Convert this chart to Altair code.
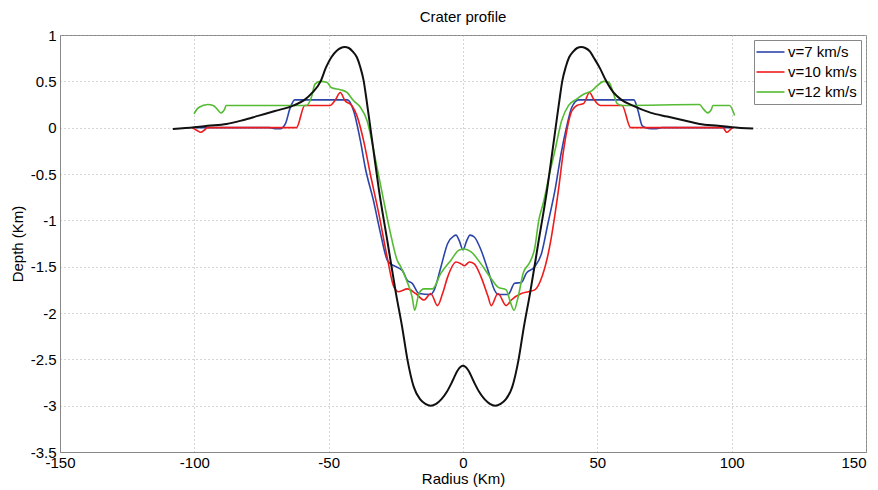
import altair as alt
import pandas as pd

# ---- data ----
black_x = [-108, -100, -95, -88, -82, -76, -70, -63, -59, -56, -53, -51, -49, -47, -45.5, -44,
           -42.5, -41, -39.5, -38.3, -37, -36, -35, -33.3, -31.4, -28, -25, -22.6, -20.7, -18.3,
           -16, -14, -12, -10, -8, -6, -4, -2, 0, 2, 4, 6, 8, 10, 12, 14, 16, 18.3, 20.7, 22.6,
           25, 28, 31.4, 33.3, 35, 36, 37, 38.3, 39.5, 41, 42.5, 44, 45.5, 47, 49, 51, 53, 56,
           59, 63, 70, 76, 82, 88, 95, 100, 108]
black_y = [-0.015, 0.005, 0.02, 0.04, 0.08, 0.13, 0.18, 0.24, 0.3, 0.38, 0.5, 0.65, 0.76, 0.83, 0.86, 0.87,
           0.86, 0.82, 0.76, 0.66, 0.51, 0.32, 0.11, -0.25, -0.65, -1.25, -1.78, -2.16, -2.5, -2.8,
           -2.93, -2.98, -3.0, -2.98, -2.93, -2.85, -2.74, -2.62, -2.57, -2.62, -2.74, -2.85, -2.93, -2.98, -3.0, -2.98, -2.93, -2.8, -2.5, -2.16,
           -1.78, -1.25, -0.65, -0.25, 0.11, 0.32, 0.51, 0.66, 0.76, 0.82, 0.86, 0.87, 0.86, 0.83, 0.74, 0.64, 0.52, 0.38,
           0.3, 0.24, 0.16, 0.12, 0.08, 0.04, 0.02, 0.005, -0.01]

v7_x = [-100, -80, -72, -70, -68, -66, -64.5, -62.6, -50, -43, -40.7, -38.2, -36.4, -33.3, -30.7,
        -28.2, -27, -25.7, -22.6, -20.7, -18.9, -16.4, -12, -10.7, -8.2, -5.7, -3.5, -2.6, -1.4,
        0, 1.4, 2.6, 4.2, 6.7, 9.3, 11.7, 13, 16.8, 19.2, 21.7, 23.6, 26.7, 29.2, 31.5, 34.2,
        36.7, 38.5, 40.5, 43, 63.6, 65, 66.7, 68, 70, 72, 74, 80, 100]
v7_y = [0, 0, 0, -0.01, -0.01, 0.05, 0.2, 0.3, 0.3, 0.3, 0.18, -0.14, -0.43, -0.79, -1.14,
        -1.43, -1.47, -1.49, -1.54, -1.65, -1.68, -1.79, -1.80, -1.75, -1.50, -1.25, -1.17, -1.16, -1.22,
        -1.32, -1.22, -1.16, -1.18, -1.32, -1.54, -1.75, -1.80, -1.80, -1.68, -1.67, -1.57, -1.50, -1.36, -1.05, -0.68,
        -0.25, 0.0, 0.22, 0.3, 0.3, 0.2, 0.02, 0, -0.01, -0.01, 0, 0, 0]

v10_x = [-100.8, -99, -97.6, -96, -95, -62, -58.9, -49.5, -47.5, -45.7, -43.9, -41.4, -39.5, -37,
         -34.5, -31.4, -28.2, -25.7, -23.9, -20.7, -17.6, -14.5, -12, -9.5, -7.6, -5.7, -2.6,
         -0.7, 0.5, 2.4, 4.2, 6.7, 9.3, 10.5, 13, 16.1, 18, 21.7, 24.3, 26.7, 29.5, 31.8, 35.5,
         37.4, 40.5, 42.4, 44.9, 47.1, 48.6, 51.1, 59.2, 62.4, 96.7, 98.2, 99.5, 100.5]
v10_y = [0, -0.03, -0.05, -0.02, 0, 0, 0.24, 0.24, 0.3, 0.38, 0.29, 0.24, 0.13, -0.14,
         -0.5, -0.92, -1.40, -1.72, -1.77, -1.74, -1.79, -1.86, -1.79, -1.92, -1.79, -1.61, -1.45,
         -1.47, -1.49, -1.45, -1.47, -1.61, -1.82, -1.92, -1.79, -1.92, -1.86, -1.79, -1.77, -1.75, -1.6, -1.35, -0.68,
         -0.25, 0.18, 0.24, 0.26, 0.38, 0.31, 0.24, 0.24, 0, 0, -0.05, -0.02, 0]

v12_x = [-100.1, -99, -98.2, -95, -93, -91.5, -90.1, -88.7, -88.2, -58.2, -56.4, -55.1, -53.2,
         -50.7, -48.9, -45.7, -43.2, -40.7, -38.2, -35.7, -33.2, -32, -29.5, -27, -24.5, -23.2,
         -20.7, -18.9, -18, -16.4, -14.5, -11.4, -8.2, -4.5, -1.4, 0.5, 3, 6.7, 10.5, 13, 16.1,
         17.4, 19, 20.5, 22.4, 24.9, 26.7, 28.2, 30, 32.2, 34.2, 36.7, 39.3, 42.4, 44.9, 48, 49.9,
         52.4, 54.3, 56.1, 57.4, 59.2, 88, 89.5, 91.1, 92.5, 93, 99.2, 101.1]
v12_y = [0.15, 0.2, 0.22, 0.25, 0.24, 0.2, 0.16, 0.2, 0.24, 0.24, 0.33, 0.47, 0.50,
         0.49, 0.43, 0.41, 0.38, 0.29, 0.22, 0.075, -0.25, -0.43, -0.79, -1.14, -1.43, -1.50,
         -1.67, -1.83, -1.97, -1.79, -1.74, -1.74, -1.57, -1.43, -1.32, -1.31, -1.34, -1.47, -1.63, -1.72, -1.75,
         -1.86, -1.97, -1.83, -1.57, -1.45, -1.3, -1.0, -0.8, -0.5, -0.25, 0.075, 0.24, 0.31, 0.36, 0.40, 0.45,
         0.50, 0.49, 0.36, 0.26, 0.24, 0.25, 0.2, 0.16, 0.2, 0.24, 0.24, 0.13]

series_names = ["v=7 km/s", "v=10 km/s", "v=12 km/s"]
series_colors = ["#2b45a8", "#ee1c1c", "#55bb33"]
x_ticks = [-150, -100, -50, 0, 50, 100, 150]
y_ticks = [-3.5, -3, -2.5, -2, -1.5, -1, -0.5, 0, 0.5, 1]

rows = []
for name, xs, ys in zip(series_names, [v7_x, v10_x, v12_x], [v7_y, v10_y, v12_y]):
    for i, (a, b) in enumerate(zip(xs, ys)):
        rows.append({"series": name, "r": a, "d": b, "i": i})
df = pd.DataFrame(rows)
dfb = pd.DataFrame({"r": black_x, "d": black_y, "i": list(range(len(black_x)))})

FONT = "Arial, Liberation Sans, Helvetica, sans-serif"
FS = 15

xenc = alt.X("r:Q", scale=alt.Scale(domain=[-150, 150], nice=False),
             axis=alt.Axis(values=x_ticks, title="Radius (Km)", labelExpr="'' + datum.value",
                           labelFlush=False,
                           labelAlign={"condition": {"test": "datum.value >= 150", "value": "right"},
                                       "value": "center"},
                           labelPadding=3, titlePadding=1))
yenc = alt.Y("d:Q", scale=alt.Scale(domain=[-3.5, 1], nice=False),
             axis=alt.Axis(values=y_ticks, title="Depth (Km)", labelExpr="'' + datum.value",
                           labelPadding=4, titlePadding=5))

colored = alt.Chart(df).mark_line(strokeWidth=1.6, interpolate="monotone").encode(
    x=xenc, y=yenc,
    color=alt.Color("series:N", scale=alt.Scale(domain=series_names, range=series_colors),
                    sort=series_names,
                    legend=alt.Legend(title=None, orient="none", legendX=694, legendY=5,
                                      fillColor="white", strokeColor="#888888", padding=4,
                                      labelFont=FONT, labelFontSize=FS, labelColor="black",
                                      symbolType="M-1.36,0H2.64", symbolSize=196, symbolStrokeWidth=1.6,
                                      labelOffset=14, rowPadding=4)),
    order="i:Q",
)

black = alt.Chart(dfb).mark_line(strokeWidth=2, color="#111111", interpolate="monotone").encode(
    x=xenc, y=yenc, order="i:Q"
)

chart = alt.layer(colored, black).properties(
    width=806, height=417,
    background="white",
    autosize=alt.AutoSizeParams(type="none"),
    padding={"left": 52, "top": 27, "right": 4, "bottom": 38},
    title=alt.TitleParams("Crater profile", fontSize=FS, fontWeight="normal", font=FONT,
                          color="black", offset=3, anchor="middle"),
).configure_view(
    stroke="#888888", strokeWidth=1
).configure_axis(
    labelFont=FONT, labelFontSize=FS, labelColor="black",
    titleFont=FONT, titleFontSize=FS, titleFontWeight="normal", titleColor="black",
    grid=True, gridColor="#aaaaaa", gridDash=[1, 3], gridWidth=1,
    ticks=False, domainColor="#888888",
)

chart.save("out.html", embed_options={"renderer": "svg", "actions": False})
